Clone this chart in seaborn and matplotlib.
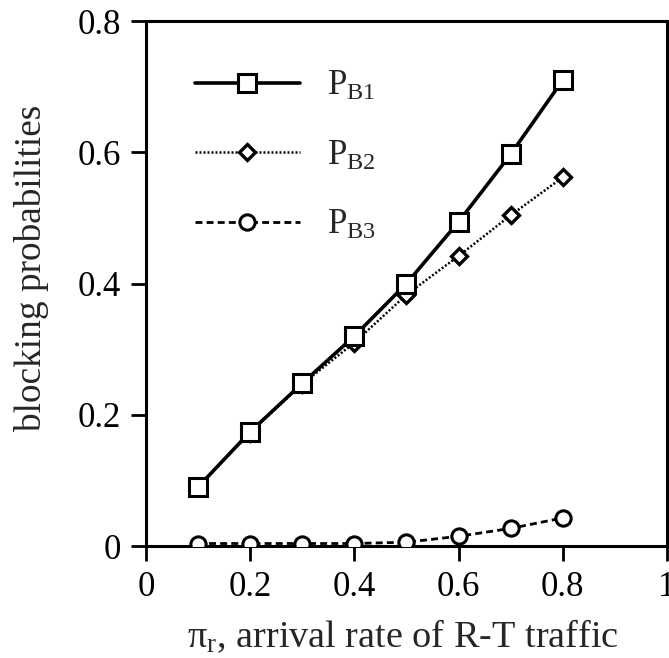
import numpy as np
import pandas as pd
import matplotlib
matplotlib.use("Agg")
import matplotlib.pyplot as plt
import seaborn as sns

# arrival rate of real-time traffic
pi_r = [0.1, 0.2, 0.3, 0.4, 0.5, 0.6, 0.7, 0.8]

# blocking probabilities for the three traffic classes
pb1 = [0.09, 0.174, 0.248, 0.32, 0.40, 0.494, 0.597, 0.71]
pb2 = [0.09, 0.173, 0.247, 0.31, 0.383, 0.442, 0.504, 0.562]
pb3 = [0.004, 0.004, 0.004, 0.004, 0.006, 0.015, 0.027, 0.043]

series_names = ["P$_{\\mathrm{B1}}$", "P$_{\\mathrm{B2}}$", "P$_{\\mathrm{B3}}$"]
x_ticks = [0, 0.2, 0.4, 0.6, 0.8, 1.0]
x_ticklabels = ["0", "0.2", "0.4", "0.6", "0.8", "1"]
y_ticks = [0, 0.2, 0.4, 0.6, 0.8]
y_ticklabels = ["0", "0.2", "0.4", "0.6", "0.8"]

sns.set_style("ticks")
plt.rcParams["font.family"] = ["Liberation Serif", "DejaVu Serif"]
plt.rcParams["mathtext.fontset"] = "custom"
plt.rcParams["mathtext.rm"] = "Liberation Serif"
plt.rcParams["mathtext.it"] = "Liberation Serif:italic"

df = pd.DataFrame({"x": pi_r, "pb1": pb1, "pb2": pb2, "pb3": pb3})

fig = plt.figure(figsize=(6.69, 6.58), dpi=100)
ax = fig.add_axes([0.218, 0.170, 0.779, 0.798])

sns.lineplot(data=df, x="x", y="pb3", ax=ax, color="black", lw=2.0,
             linestyle=(0, (2.5, 1.5)), marker="o", markersize=11,
             markerfacecolor="white", markeredgecolor="black",
             markeredgewidth=2.2, label=series_names[2], zorder=3)
sns.lineplot(data=df, x="x", y="pb2", ax=ax, color="black", lw=1.8,
             linestyle=(0, (0.8, 0.8)), marker="D", markersize=8,
             markerfacecolor="white", markeredgecolor="black",
             markeredgewidth=2.4, label=series_names[1], zorder=4)
sns.lineplot(data=df, x="x", y="pb1", ax=ax, color="black", lw=2.6,
             linestyle="-", marker="s", markersize=13,
             markerfacecolor="white", markeredgecolor="black",
             markeredgewidth=2.2, label=series_names[0], zorder=5)

ax.set_xlim(0, 1)
ax.set_ylim(0, 0.8)
ax.set_xticks(x_ticks)
ax.set_xticklabels(x_ticklabels)
ax.set_yticks(y_ticks)
ax.set_yticklabels(y_ticklabels)
ax.tick_params(direction="out", length=11, width=2.0, labelsize=25,
               pad=7, color="black", labelcolor="black")
for side in ["left", "right", "top", "bottom"]:
    ax.spines[side].set_visible(True)
    ax.spines[side].set_linewidth(2.2)
    ax.spines[side].set_color("black")

ax.set_xlabel("$\\mathrm{\\pi}_{\\mathrm{r}}$, arrival rate of R-T traffic",
              fontsize=27.5)
ax.xaxis.set_label_coords(0.493, -0.136)
ax.set_ylabel("blocking probabilities", fontsize=26.8)
ax.yaxis.set_label_coords(-0.185, 0.53)

handles, labels = ax.get_legend_handles_labels()
order = [labels.index(n) for n in series_names]
ax.legend([handles[i] for i in order], [labels[i] for i in order],
          loc="upper left", bbox_to_anchor=(0.095, 0.907), frameon=False,
          fontsize=25, handlelength=3.0, handletextpad=0.8,
          labelspacing=1.05, borderpad=0, borderaxespad=0)

fig.savefig("out.png", dpi=100, facecolor="white")
